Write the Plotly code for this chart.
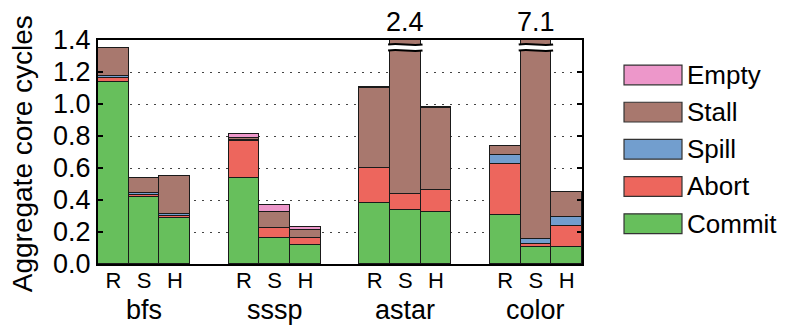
import plotly.graph_objects as go

# ---- data ----
groups = ["bfs", "sssp", "astar", "color"]
variants = ["R", "S", "H"]
series_names = ["Commit", "Abort", "Spill", "Stall", "Empty"]
commit = [1.14, 0.42, 0.29, 0.54, 0.165, 0.12, 0.38, 0.34, 0.325, 0.305, 0.105, 0.107]
abort_ = [0.025, 0.01, 0.007, 0.23, 0.06, 0.044, 0.22, 0.10, 0.14, 0.317, 0.02, 0.132]
spill = [0.012, 0.015, 0.013, 0.005, 0.0, 0.0, 0.0, 0.0, 0.0, 0.06, 0.03, 0.054]
stall = [0.17, 0.09, 0.237, 0.015, 0.10, 0.05, 0.5, 1.96, 0.511, 0.055, 6.945, 0.156]
empty = [0.003, 0.003, 0.002, 0.02, 0.046, 0.018, 0.005, 0.0, 0.008, 0.002, 0.0, 0.0]
colors = ["#67BF5C", "#ED665D", "#729ECE", "#A8786E", "#ED97CA"]
y_ticks = [0.0, 0.2, 0.4, 0.6, 0.8, 1.0, 1.2, 1.4]
y_max = 1.4
y_title = "Aggregate core cycles"

series = [commit, abort_, spill, stall, empty]
FONT = "Liberation Sans, Arial, Helvetica, sans-serif"

# x positions: 3 bars per group, gap of 1.25 bar widths between groups
GAP = 1.25
xpos = []
for g in range(len(groups)):
    for b in range(len(variants)):
        xpos.append(g * (len(variants) + GAP) + b)

fig = go.Figure()
for name, vals, col in zip(series_names, series, colors):
    fig.add_trace(go.Bar(
        x=xpos, y=vals, name=name, width=1.0,
        marker=dict(color=col, line=dict(color="#1a1a1a", width=1.4)),
        showlegend=False,
    ))

totals = [sum(s[i] for s in series) for i in range(len(xpos))]

annotations = []
shapes = []
# broken bars: label above + break marks
for i, t in enumerate(totals):
    if t > y_max:
        cx = xpos[i]
        annotations.append(dict(x=cx, y=1.08, xref="x", yref="paper", text=f"{t:.1f}",
                                showarrow=False, font=dict(size=27, color="black", family=FONT),
                                xanchor="center", yanchor="middle"))
        x0, x1 = cx - 0.56, cx + 0.56
        w = x1 - x0
        yt, yb, d = 1.372, 1.335, 0.012
        fill = (f"M {x0},{yt} C {x0 + w/3},{yt + d} {x0 + 2*w/3},{yt - d} {x1},{yt} "
                f"L {x1},{yb} C {x0 + 2*w/3},{yb - d} {x0 + w/3},{yb + d} {x0},{yb} Z")
        shapes.append(dict(type="path", path=fill, xref="x", yref="y",
                           fillcolor="white", line=dict(width=0), layer="above"))
        for yy in (yt, yb):
            p = f"M {x0},{yy} C {x0 + w/3},{yy + d} {x0 + 2*w/3},{yy - d} {x1},{yy}"
            shapes.append(dict(type="path", path=p, xref="x", yref="y",
                               line=dict(color="black", width=2), layer="above"))

# group labels
for g, name in enumerate(groups):
    cx = g * (len(variants) + GAP) + (len(variants) - 1) / 2
    annotations.append(dict(x=cx, y=-0.135, xref="x", yref="paper", text=name,
                            showarrow=False, font=dict(size=27, color="black", family=FONT),
                            xanchor="center", yanchor="top", borderpad=0))

# y-axis title
annotations.append(dict(x=-0.157, y=0.49, xref="paper", yref="paper", text=y_title,
                        textangle=-90, showarrow=False,
                        font=dict(size=28, color="black", family=FONT),
                        xanchor="center", yanchor="middle"))

# custom legend (top to bottom: Empty, Stall, Spill, Abort, Commit)
leg_order = list(range(len(series_names)))[::-1]
for k, idx in enumerate(leg_order):
    yc = 0.844 - k * 0.166
    shapes.append(dict(type="rect", xref="paper", yref="paper",
                       x0=1.0868, x1=1.2066, y0=yc - 0.044, y1=yc + 0.044,
                       fillcolor=colors[idx], line=dict(color="#333", width=1.2)))
    annotations.append(dict(x=1.2128, y=yc, xref="paper", yref="paper",
                            text=series_names[idx], showarrow=False,
                            font=dict(size=26, color="black", family=FONT),
                            xanchor="left", yanchor="middle"))

fig.update_layout(
    barmode="stack",
    width=791, height=326,
    margin=dict(l=98, r=209, t=40, b=62, autoexpand=False),
    plot_bgcolor="white", paper_bgcolor="white",
    font=dict(family=FONT, color="black", size=20),
    bargap=0,
    annotations=annotations,
    shapes=shapes,
)
fig.update_xaxes(
    range=[xpos[0] - 0.5, xpos[-1] + 0.5],
    tickvals=xpos, ticktext=variants * len(groups),
    tickfont=dict(size=22), ticks="", showgrid=False, zeroline=False,
    showline=True, linecolor="black", linewidth=2, mirror=True, automargin=False,
    ticklabelstandoff=-4,
)
fig.update_yaxes(
    range=[0, y_max], tickvals=y_ticks, ticktext=[f"{v:.1f}" for v in y_ticks],
    tickfont=dict(size=27), ticks="inside", ticklen=5, tickwidth=1.5, tickcolor="black",
    showgrid=True, gridcolor="#444", griddash="2px,6px", gridwidth=1.2,
    zeroline=False, showline=True, linecolor="black", linewidth=2, mirror="ticks",
    automargin=False,
)

fig.write_html("out.html", config={"displayModeBar": False},
               post_script="document.body.style.margin='0';")
